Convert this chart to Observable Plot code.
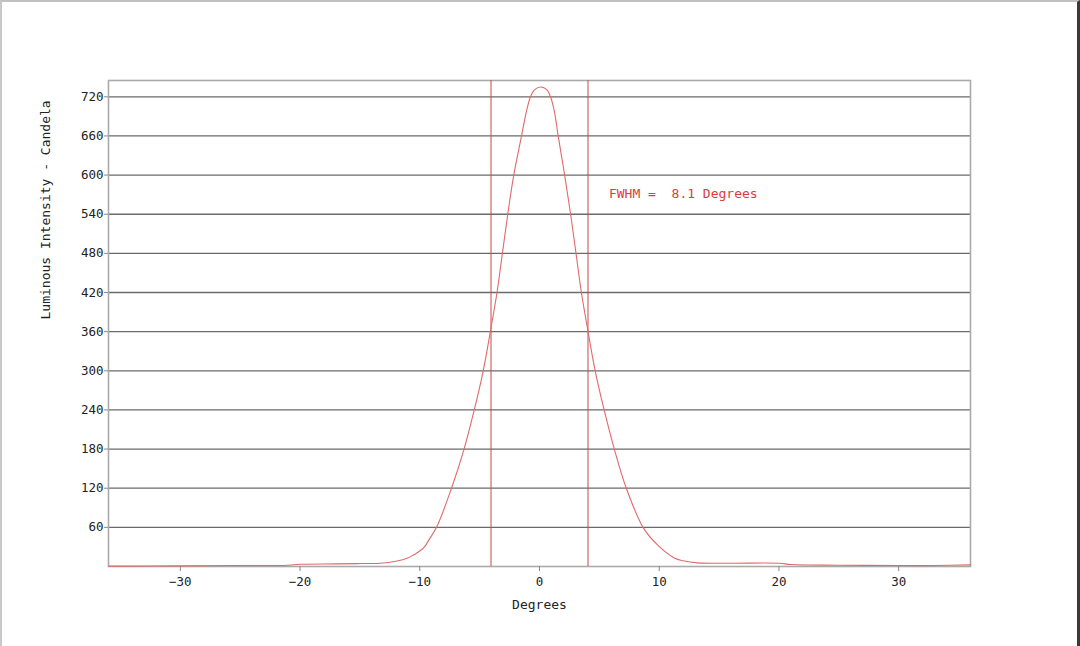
<!DOCTYPE html>
<html>
<head>
<meta charset="utf-8">
<script src="https://cdn.jsdelivr.net/npm/d3@7"></script>
<script src="https://cdn.jsdelivr.net/npm/@observablehq/plot@0.6"></script>
<style>
  html, body { margin: 0; padding: 0; background: #fff; }
  #wrap { position: relative; width: 1080px; height: 646px; overflow: hidden; }
  #border { position: absolute; left: 0; top: 0; width: 1080px; height: 646px; box-sizing: border-box;
    border-left: 2px solid #c8c8c8; border-top: 2px solid #c0c0c0; border-right: 3px solid #3a3a3a; pointer-events: none; }
  svg { display: block; }
</style>
</head>
<body>
<div id="wrap"><div id="chart"></div><div id="border"></div></div>
<script>
// Angle (degrees) and luminous intensity (candela)
const degrees = [-36, -30, -25, -21, -20, -17, -15, -13.3, -12, -11, -10.5, -9.7, -9.2, -8.6, -7.35, -6.3, -5.45, -4.7, -4.05, -3.55, -3.1, -2.65, -2.15, -1.5, -1.1, -0.75, -0.4, 0.14, 0.6, 0.92, 1.25, 1.56, 2.1, 2.6, 3.05, 3.5, 4.0, 4.65, 5.4, 6.25, 7.25, 8.65, 9.86, 11.26, 12, 13.2, 16, 20, 21, 25, 30, 33, 36];
const candela = [0.5, 1, 1.5, 2, 3.5, 4, 4.5, 5, 8, 13, 18, 28, 42, 60, 120, 180, 240, 300, 366, 420, 480, 540, 600, 660, 697, 720, 731, 735, 731, 720, 697, 660, 600, 540, 480, 420, 366, 300, 240, 180, 120, 60, 33, 13, 8.7, 5.5, 5, 5, 3, 2, 1.5, 1.5, 2.5];
const fwhmEdges = [-4.05, 4.05];
const xTicks = [-30, -20, -10, 0, 10, 20, 30];
const yTicks = [60, 120, 180, 240, 300, 360, 420, 480, 540, 600, 660, 720];
const xLabel = "Degrees";
const yLabel = "Luminous Intensity - Candela";
const note = {text: "FWHM =  8.1 Degrees", x: 5.8, y: 571};

const data = degrees.map((d, i) => ({deg: d, cd: candela[i]}));

const chart = Plot.plot({
  width: 1080,
  height: 646,
  marginLeft: 108,
  marginRight: 110,
  marginTop: 80,
  marginBottom: 80,
  style: {fontFamily: "'DejaVu Sans Mono', monospace", fontSize: "12.5px", color: "#222", background: "transparent"},
  x: {domain: [-36, 36]},
  y: {domain: [0, 745]},
  marks: [
    Plot.gridY(yTicks, {stroke: "#6a6a6a", strokeOpacity: 1, strokeWidth: 1.3}),
    Plot.frame({stroke: "#aaaaaa", strokeWidth: 1.6}),
    Plot.axisY(yTicks, {tickSize: 4, tickPadding: 1, label: null, stroke: "#888", fontSize: 12.5}),
    Plot.axisX(xTicks, {tickSize: 5, tickPadding: 6, label: null, stroke: "#888", fontSize: 12.5}),
    Plot.ruleX(fwhmEdges, {stroke: "#c84848", strokeWidth: 1}),
    Plot.line(data, {x: "deg", y: "cd", stroke: "#e06a6a", strokeWidth: 1.1, curve: "catmull-rom"}),
    Plot.text([note], {x: "x", y: "y", text: "text", textAnchor: "start", fill: "#e03a3a", fontSize: 13}),
    Plot.text([xLabel], {frameAnchor: "bottom", dy: 42, fill: "#222", fontSize: 13}),
    Plot.text([yLabel], {frameAnchor: "left", dx: -63, dy: -4, rotate: -90, fill: "#222", fontSize: 13})
  ]
});
document.getElementById("chart").appendChild(chart);
</script>
</body>
</html>
